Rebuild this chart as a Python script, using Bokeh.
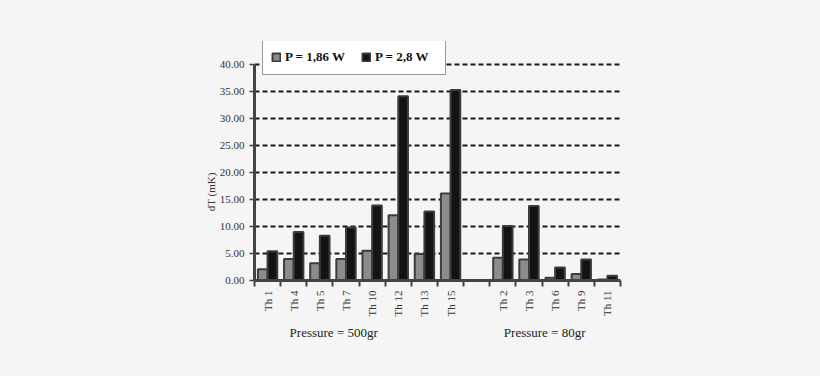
import math
from bokeh.plotting import figure
from bokeh.models import (ColumnDataSource, FixedTicker, Range1d, Legend, LegendItem,
                          LinearAxis, CustomJSTickFormatter)
from bokeh.embed import file_html
from bokeh.resources import INLINE

categories = ["Th 1", "Th 4", "Th 5", "Th 7", "Th 10", "Th 12", "Th 13", "Th 15", "",
              "Th 2", "Th 3", "Th 6", "Th 9", "Th 11"]
p_186 = [2.1, 4.0, 3.2, 4.0, 5.5, 12.1, 4.9, 16.1, None, 4.2, 3.9, 0.5, 1.2, 0.2]
p_28 = [5.4, 9.0, 8.3, 9.8, 13.9, 34.1, 12.8, 35.3, None, 10.1, 13.8, 2.4, 3.9, 0.9]
series_names = ["P = 1,86 W", "P = 2,8 W"]
group_labels = ["Pressure = 500gr", "Pressure = 80gr"]
group_pos = [3.03, 11.1]
y_ticks = [0, 5, 10, 15, 20, 25, 30, 35, 40]
y_title = "dT (mK)"

FONT = "Liberation Serif"
n = len(categories)
idx = [i for i in range(n) if categories[i]]
centers = [i + 0.5 for i in idx]
src = ColumnDataSource(dict(
    x1=[i + 0.5 - 0.185 for i in idx],
    x2=[i + 0.5 + 0.185 for i in idx],
    a=[p_186[i] for i in idx],
    b=[p_28[i] for i in idx],
))

H = 360
p = figure(width=804, height=H, output_backend="svg", toolbar_location=None,
           x_range=Range1d(0, n), y_range=Range1d(0, 44.26),
           min_border_left=254, min_border_right=184, min_border_top=41,
           min_border_bottom=80)
p.background_fill_color = "#f5f5f5"
p.border_fill_color = "#f5f5f5"
p.outline_line_color = None

r1 = p.vbar(x="x1", top="a", width=0.37, source=src, fill_color="#8c8c8c",
            line_color="#3c3c3c", line_width=2)
r2 = p.vbar(x="x2", top="b", width=0.37, source=src, fill_color="#131313",
            line_color="#3c3c3c", line_width=2)

# x axis with category labels
xa = p.xaxis[0]
xa.ticker = FixedTicker(ticks=centers, minor_ticks=list(range(n + 1)))
xa.major_label_overrides = {c: categories[i] for c, i in zip(centers, idx)}
xa.major_label_orientation = math.pi / 2
xa.major_tick_line_color = None
xa.major_tick_out = 6
xa.major_tick_in = 0
xa.minor_tick_out = 6
xa.minor_tick_in = 0
xa.minor_tick_line_color = "#444444"
xa.minor_tick_line_width = 2
xa.axis_line_color = "#444444"
xa.axis_line_width = 3
xa.major_label_text_font = FONT
xa.major_label_text_font_size = "11px"
xa.major_label_text_color = "#333333"
xa.major_label_standoff = 4

# second axis below for group labels
ga = LinearAxis(ticker=FixedTicker(ticks=group_pos),
                major_label_overrides={gp: gt for gp, gt in zip(group_pos, group_labels)})
ga.axis_line_color = None
ga.major_tick_line_color = None
ga.minor_tick_line_color = None
ga.major_tick_out = 0
ga.major_tick_in = 0
ga.major_label_standoff = 5
ga.major_label_text_font = FONT
ga.major_label_text_font_size = "13px"
ga.major_label_text_color = "#222222"
p.add_layout(ga, "below")

ya = p.yaxis[0]
ya.ticker = FixedTicker(ticks=y_ticks)
ya.bounds = (0, 40)
ya.formatter = CustomJSTickFormatter(code="return tick.toFixed(2);")
ya.axis_line_color = "#444444"
ya.axis_line_width = 3
ya.major_tick_line_color = "#444444"
ya.major_tick_line_width = 1.5
ya.major_tick_out = 5
ya.major_tick_in = 0
ya.minor_tick_line_color = None
ya.major_label_text_font = FONT
ya.major_label_text_font_size = "11px"
ya.major_label_text_color = "#333333"
ya.major_label_standoff = 5

# y title as label of an extra left axis, centred on the 0-40 span
ta = LinearAxis(ticker=FixedTicker(ticks=[20]), major_label_overrides={20: y_title})
ta.axis_line_color = None
ta.major_tick_line_color = None
ta.minor_tick_line_color = None
ta.major_tick_out = 0
ta.major_tick_in = 0
ta.major_label_orientation = math.pi / 2
ta.major_label_standoff = 5
ta.major_label_text_font = FONT
ta.major_label_text_font_size = "11px"
ta.major_label_text_color = "#333333"
p.add_layout(ta, "left")

p.xgrid.grid_line_color = None
p.ygrid.ticker = FixedTicker(ticks=y_ticks[1:])
p.ygrid.grid_line_color = "#1a1a1a"
p.ygrid.grid_line_dash = "5 3"
p.ygrid.grid_line_width = 1.8

legend = Legend(items=[LegendItem(label=series_names[0], renderers=[r1]),
                       LegendItem(label=series_names[1], renderers=[r2])],
                location=(8, 205), orientation="horizontal")
legend.label_text_font = FONT
legend.label_text_font_style = "bold"
legend.label_text_font_size = "13px"
legend.label_text_color = "#111111"
legend.glyph_width = 10
legend.glyph_height = 10
legend.label_height = 18
legend.label_width = 62
legend.label_standoff = 4
legend.spacing = 14
legend.padding = 8
legend.margin = 0
legend.border_line_color = "#333333"
legend.border_line_width = 1.5
legend.background_fill_color = "white"
legend.background_fill_alpha = 1
p.add_layout(legend)

html = file_html(p, INLINE)
html = html.replace("<head>", "<head><style>body{background:#f5f5f5;}</style>", 1)
open("out.html", "w").write(html)
